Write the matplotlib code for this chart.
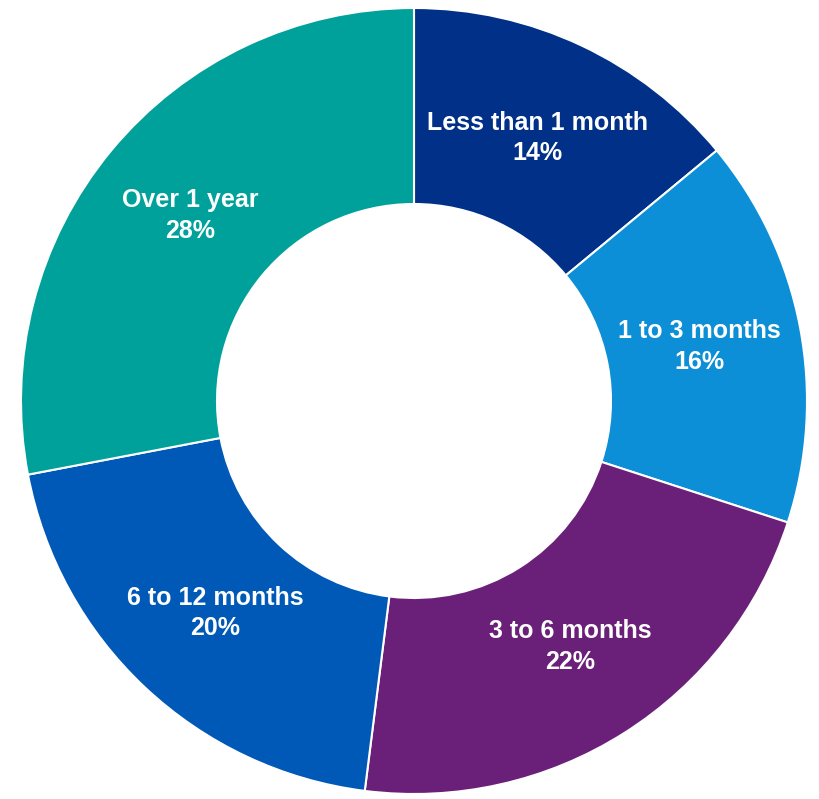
import matplotlib.pyplot as plt

categories = ['Less than 1 month', '1 to 3 months', '3 to 6 months', '6 to 12 months', 'Over 1 year']
shares = [14, 16, 22, 20, 28]
colors = ['#003087', '#0c8fd6', '#6a1f78', '#0058b7', '#00a19a']

labels = [f'{c}\n{s}%' for c, s in zip(categories, shares)]

fig = plt.figure(figsize=(8.2, 7.99), dpi=100)
ax = fig.add_axes([0, 0, 1, 1])

wedges, texts = ax.pie(
    shares, labels=labels, colors=colors,
    startangle=90, counterclock=False,
    center=(414, 398), radius=393,
    labeldistance=0.74,
    wedgeprops=dict(width=196, edgecolor='white', linewidth=1.5),
    textprops=dict(color='white', fontsize=18, fontweight='bold',
                   family='Liberation Sans', ha='center', va='center',
                   linespacing=1.35),
)

ax.set_xlim(0, 820)
ax.set_ylim(0, 799)
ax.set_aspect('equal')
ax.axis('off')

fig.savefig('out.png', dpi=100)
